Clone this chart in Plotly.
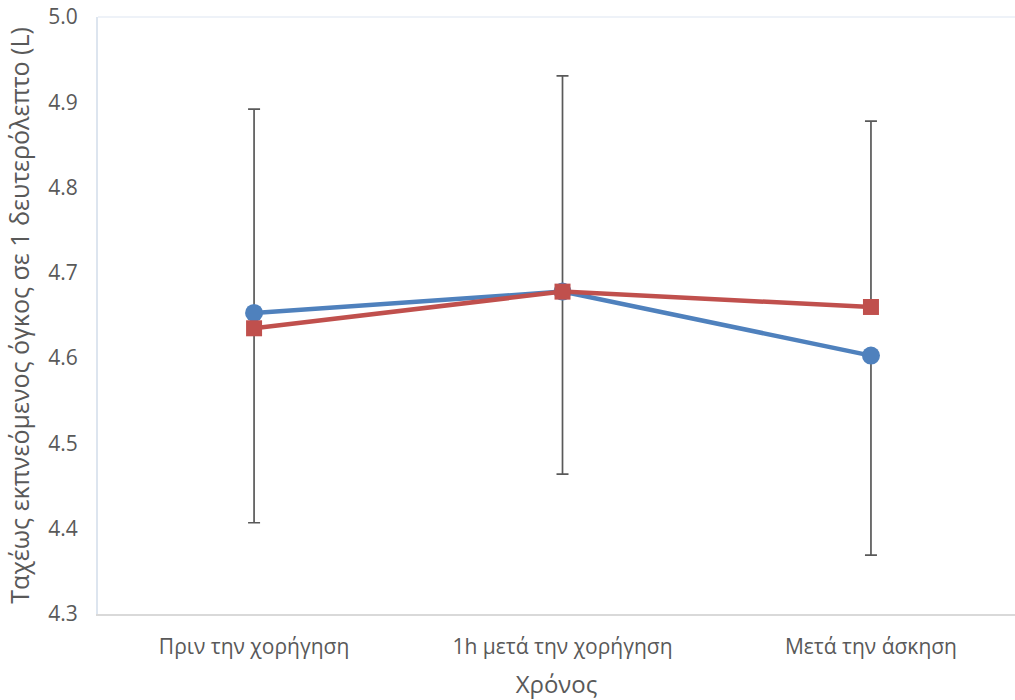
import plotly.graph_objects as go

categories = ["Πριν την χορήγηση", "1h μετά την χορήγηση", "Μετά την άσκηση"]
blue_values = [4.653, 4.678, 4.603]
red_values = [4.635, 4.678, 4.660]
blue_err_minus = [0.246, 0.214, 0.234]
red_err_plus = [0.257, 0.253, 0.218]
zeros = [0, 0, 0]

BLUE = "#4F81BD"
RED = "#C0504D"
ERR = "#595959"
FONT = "Open Sans"

fig = go.Figure()

# error bars first (drawn beneath all markers)
fig.add_trace(go.Scatter(
    x=categories, y=blue_values, mode="markers",
    marker=dict(size=1, opacity=0),
    error_y=dict(type="data", symmetric=False, array=zeros, arrayminus=blue_err_minus,
                 color=ERR, thickness=1.7, width=6),
    showlegend=False, hoverinfo="skip"))
fig.add_trace(go.Scatter(
    x=categories, y=red_values, mode="markers",
    marker=dict(size=1, opacity=0),
    error_y=dict(type="data", symmetric=False, array=red_err_plus, arrayminus=zeros,
                 color=ERR, thickness=1.7, width=6),
    showlegend=False, hoverinfo="skip"))

fig.add_trace(go.Scatter(
    x=categories, y=blue_values, mode="lines+markers",
    line=dict(color=BLUE, width=4.5),
    marker=dict(symbol="circle", size=18, color=BLUE),
    showlegend=False))
fig.add_trace(go.Scatter(
    x=categories, y=red_values, mode="lines+markers",
    line=dict(color=RED, width=4.5),
    marker=dict(symbol="square", size=16, color=RED),
    showlegend=False))

fig.update_layout(
    width=1015, height=700,
    margin=dict(l=98, r=0, t=17, b=86),
    paper_bgcolor="white", plot_bgcolor="white",
    font=dict(family=FONT, size=21, color="#595959"),
    xaxis=dict(
        type="category", range=[-0.506, 2.467],
        showgrid=False, zeroline=False,
        showline=True, linecolor="#d9d9d9", linewidth=2,
        ticks="", ticklabelstandoff=13,
        tickfont=dict(size=21, color="#595959"),
        title=dict(text="Χρόνος", font=dict(size=24, color="#595959"), standoff=17),
    ),
    yaxis=dict(
        range=[4.3, 5.0], dtick=0.1, tickformat=".1f",
        showgrid=False, zeroline=False,
        showline=True, linecolor="#dde5ef", linewidth=2,
        ticks="", ticklabelstandoff=14,
        tickfont=dict(size=21, color="#595959"),
        title=dict(text="Ταχέως εκπνεόμενος όγκος σε 1 δευτερόλεπτο (L)",
                   font=dict(size=25, color="#595959"), standoff=12),
    ),
    shapes=[dict(type="line", xref="paper", yref="paper", x0=0, x1=1, y0=1, y1=1,
                 line=dict(color="#eef2f8", width=2))],
)

fig.write_html("out.html")
